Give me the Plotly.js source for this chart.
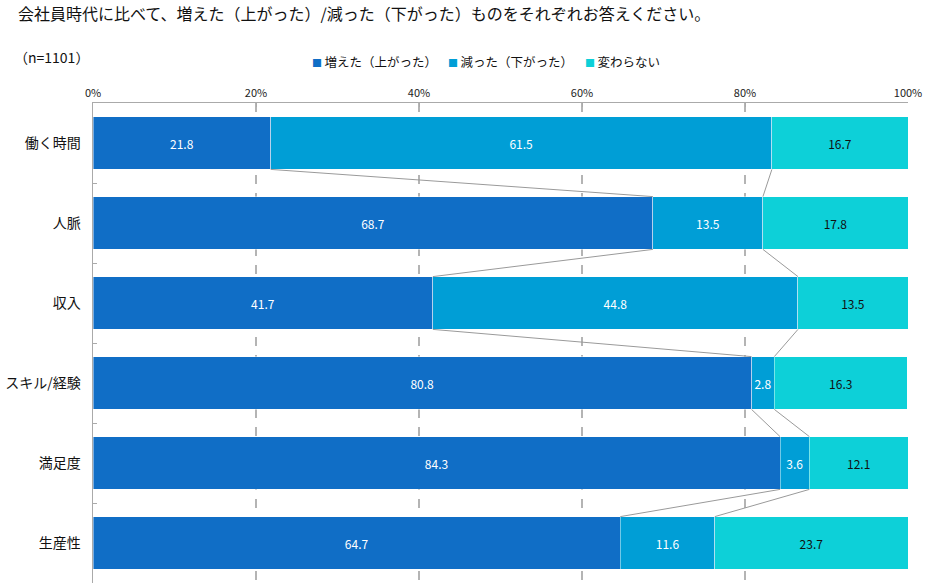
<!DOCTYPE html>
<html>
<head>
<meta charset="utf-8">
<script src="https://cdn.plot.ly/plotly-3.0.1.min.js"></script>
<style>
html, body { margin: 0; padding: 0; background: #fff; }
#chart { width: 936px; height: 583px; }
</style>
</head>
<body>
<div id="chart"></div>
<script>
let categories = ["働く時間", "人脈", "収入", "スキル/経験", "満足度", "生産性"]
let increased = [21.8, 68.7, 41.7, 80.8, 84.3, 64.7]
let decreased = [61.5, 13.5, 44.8, 2.8, 3.6, 11.6]
let unchanged = [16.7, 17.8, 13.5, 16.3, 12.1, 23.7]
let seriesNames = ["増えた（上がった）", "減った（下がった）", "変わらない"]
let xTickVals = [0, 20, 40, 60, 80, 100]
let xTickText = ["0%", "20%", "40%", "60%", "80%", "100%"]

let font = "'Noto Sans CJK JP', 'Noto Sans', sans-serif"
let colors = ["#106ec6", "#009ed6", "#0dd0d8"]
let textColors = ["#ffffff", "#ffffff", "#111111"]
let barWidth = 0.66

function barTrace(values, idx) {
    return {
        type: "bar",
        orientation: "h",
        name: seriesNames[idx],
        x: values,
        y: categories,
        width: barWidth,
        marker: { color: colors[idx], line: { color: "rgba(255,255,255,0.55)", width: 0.8 } },
        text: values.map(v => v.toFixed(1)),
        textposition: "inside",
        insidetextanchor: "middle",
        textangle: 0,
        constraintext: "none",
        textfont: { family: font, size: 12, color: textColors[idx] },
        hoverinfo: "skip"
    }
}

// connector lines between the segment boundaries of neighbouring bars
let connX = []
let connY = []
for (let i = 0; i < categories.length - 1; i++) {
    let b1a = increased[i], b1b = increased[i + 1]
    let b2a = increased[i] + decreased[i], b2b = increased[i + 1] + decreased[i + 1]
    connX.push(b1a, b1b, null, b2a, b2b, null)
    connY.push(i + barWidth / 2, i + 1 - barWidth / 2, null, i + barWidth / 2, i + 1 - barWidth / 2, null)
}

let connectors = {
    type: "scatter",
    mode: "lines",
    x: connX,
    y: connY,
    yaxis: "y2",
    line: { color: "#9a9a9a", width: 1 },
    showlegend: false,
    hoverinfo: "skip"
}

let data = [barTrace(increased, 0), barTrace(decreased, 1), barTrace(unchanged, 2), connectors]

let plotLeft = 93
let plotW = 815
let plotTop = 103
let plotH = 480

// legend drawn as a row of text entries (small square + name), like the original
let legendX = [310, 446, 583]
let legendEntries = seriesNames.map((name, i) => ({
    text: "<span style=\"color:" + colors[i] + ";font-size:10px\">■</span>\u2009" + name,
    xref: "paper", yref: "paper",
    x: (legendX[i] - plotLeft) / plotW, xanchor: "left",
    y: 1 + (plotTop - 62) / plotH, yanchor: "middle",
    showarrow: false,
    font: { family: font, size: 12.5, color: "#111111" }
}))

let layout = {
    width: 936,
    height: 583,
    margin: { l: plotLeft, r: 936 - plotLeft - plotW, t: plotTop, b: 0 },
    barmode: "stack",
    paper_bgcolor: "#ffffff",
    plot_bgcolor: "#ffffff",
    font: { family: font, color: "#222222" },
    title: {
        text: "会社員時代に比べて、増えた（上がった）/減った（下がった）ものをそれぞれお答えください。",
        font: { family: font, size: 16, color: "#111111" },
        xref: "container", yref: "container",
        x: 18 / 936, xanchor: "left",
        y: 1 - 14 / 583, yanchor: "middle"
    },
    xaxis: {
        side: "top",
        range: [0, 100],
        tickvals: xTickVals,
        ticktext: xTickText,
        tickfont: { family: font, size: 11, color: "#222222" },
        ticks: "inside",
        ticklen: 4,
        tickcolor: "#aaaaaa",
        showline: true,
        linecolor: "#aaaaaa",
        linewidth: 1.5,
        showgrid: true,
        gridcolor: "#b4b4b4",
        gridwidth: 1.5,
        griddash: "dash",
        zeroline: false,
        fixedrange: true
    },
    yaxis: {
        type: "category",
        range: [categories.length - 0.5, -0.5],
        tickson: "boundaries",
        ticks: "inside",
        ticklen: 4,
        tickcolor: "#aaaaaa",
        ticklabelstandoff: 8,
        tickfont: { family: font, size: 14, color: "#111111" },
        showline: true,
        linecolor: "#aaaaaa",
        linewidth: 1.5,
        showgrid: false,
        zeroline: false,
        fixedrange: true
    },
    yaxis2: {
        overlaying: "y",
        range: [categories.length - 0.5, -0.5],
        visible: false,
        fixedrange: true
    },
    showlegend: false,
    annotations: [{
        text: "（n=1101）",
        xref: "paper", yref: "paper",
        x: (12 - plotLeft) / plotW, xanchor: "left",
        y: 1 + (plotTop - 57) / plotH, yanchor: "middle",
        showarrow: false,
        font: { family: font, size: 14, color: "#111111" }
    }].concat(legendEntries)
}

Plotly.newPlot("chart", data, layout, { displayModeBar: false, staticPlot: true })
</script>
</body>
</html>
